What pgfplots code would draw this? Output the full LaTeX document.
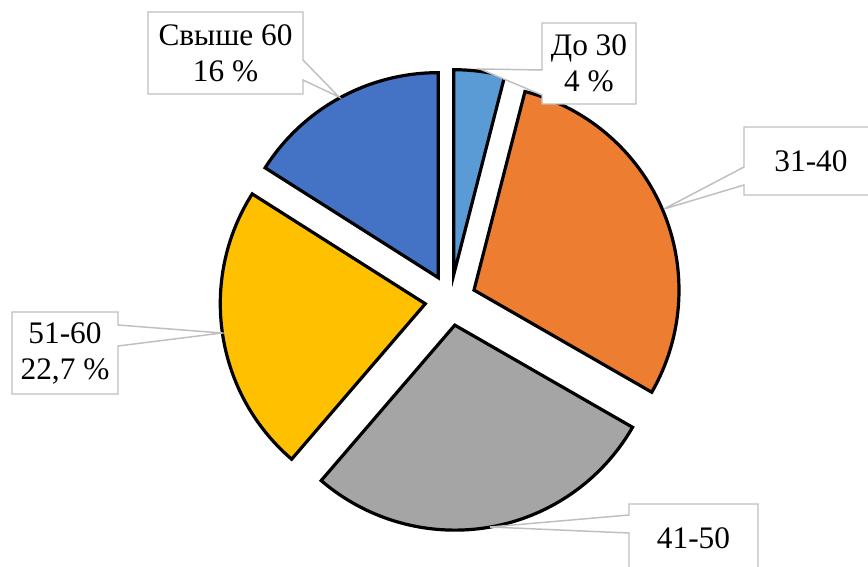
\documentclass[border=0pt]{standalone}
\usepackage{fontspec}
\setmainfont{Liberation Serif}
\usepackage{pgfplots}
\usepackage{pgfplotstable}
\pgfplotsset{compat=1.18}
\definecolor{slice0}{HTML}{5B9BD5}
\definecolor{slice1}{HTML}{ED7D31}
\definecolor{slice2}{HTML}{A5A5A5}
\definecolor{slice3}{HTML}{FFC000}
\definecolor{slice4}{HTML}{4472C4}
\definecolor{callgray}{HTML}{BFBFBF}
\pgfplotstableread[col sep=comma]{
label,value
До 30,4
31-40,29.3
41-50,28
51-60,22.7
Свыше 60,16
}\piedata
% geometry (pixel units): centre, explosion, radius
\def\cx{450.5}\def\cy{300}\def\dex{25.5}
\gdef\cum{0}
\foreach \i in {0,...,4}{%
  \pgfplotstablegetelem{\i}{value}\of\piedata
  \pgfmathsetmacro\aS{\cum*3.6}%
  \pgfmathsetmacro\aE{(\cum+\pgfplotsretval)*3.6}%
  \pgfmathsetmacro\aM{(\aS+\aE)/2}%
  \pgfmathsetmacro\txx{\cx+\dex*sin(\aM)}%
  \pgfmathsetmacro\tyy{\cy-\dex*cos(\aM)}%
  \pgfmathsetmacro\fs{90-\aS}%
  \pgfmathsetmacro\fe{90-\aE}%
  \expandafter\xdef\csname tx\i\endcsname{\txx}%
  \expandafter\xdef\csname ty\i\endcsname{\tyy}%
  \expandafter\xdef\csname fS\i\endcsname{\fs}%
  \expandafter\xdef\csname fE\i\endcsname{\fe}%
  \pgfmathsetmacro\newcum{\cum+\pgfplotsretval}%
  \global\let\cum\newcum
}
\begin{document}
\begin{tikzpicture}
\useasboundingbox (0,0) rectangle (651pt,425.25pt);
\clip (0,0) rectangle (651pt,425.25pt);
\begin{axis}[scale only axis, width=651pt, height=425.25pt,
  xmin=0, xmax=868, ymin=0, ymax=567, y dir=reverse, hide axis, clip=false]
\pgfplotsinvokeforeach{0,...,4}{
  \draw[line width=2.4pt, fill=slice#1]
    (axis cs:\csname tx#1\endcsname,\csname ty#1\endcsname)
    -- +(\csname fS#1\endcsname:153.75pt)
    arc[start angle=\csname fS#1\endcsname, end angle=\csname fE#1\endcsname, radius=153.75pt]
    -- cycle;
}
\tikzset{callout/.style={draw=callgray, line width=1.1pt, fill=white}}
\tikzset{lab/.style={font=\fontsize{23.5}{27}\selectfont, align=center, text=black}}
% Свыше 60
\draw[callout] (axis cs:148,12) -- (axis cs:303,12) -- (axis cs:303,60) -- (axis cs:339,97) -- (axis cs:303,80) -- (axis cs:303,94) -- (axis cs:148,94) -- cycle;
\node[lab] at (axis cs:225.5,53) {Свыше 60\\16 \%};
% До 30
\draw[callout] (axis cs:542,23) -- (axis cs:636,23) -- (axis cs:636,104) -- (axis cs:542,104) -- (axis cs:542,95) -- (axis cs:480,69) -- (axis cs:542,70) -- cycle;
\node[lab] at (axis cs:589,63.5) {До 30\\4 \%};
% 31-40
\draw[callout] (axis cs:744,127) -- (axis cs:878,127) -- (axis cs:878,195) -- (axis cs:744,195) -- (axis cs:744,185) -- (axis cs:664,209) -- (axis cs:744,167) -- cycle;
\node[lab] at (axis cs:811,161) {31-40};
% 51-60
\draw[callout] (axis cs:12,312) -- (axis cs:118,312) -- (axis cs:118,325) -- (axis cs:222,333) -- (axis cs:118,346) -- (axis cs:118,394) -- (axis cs:12,394) -- cycle;
\node[lab] at (axis cs:65,353) {51-60\\22,7 \%};
% 41-50
\draw[callout] (axis cs:629,504) -- (axis cs:758,504) -- (axis cs:758,572) -- (axis cs:629,572) -- (axis cs:629,533) -- (axis cs:490,527) -- (axis cs:629,515) -- cycle;
\node[lab] at (axis cs:693.5,538) {41-50};
\end{axis}
\end{tikzpicture}
\end{document}
